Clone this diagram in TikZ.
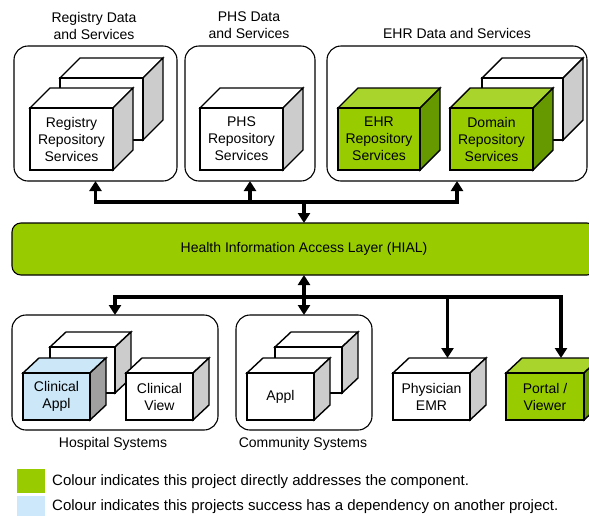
\documentclass[tikz,border=0pt]{standalone}
\usepackage{fontspec}
\setmainfont{Liberation Sans}
\usetikzlibrary{arrows.meta}

\definecolor{hialgreen}{HTML}{99CC00}
\definecolor{grnfront}{HTML}{99CC00}
\definecolor{grntop}{HTML}{A8D42C}
\definecolor{grnside}{HTML}{669900}
\definecolor{whtfront}{HTML}{FFFFFF}
\definecolor{whttop}{HTML}{FFFFFF}
\definecolor{whtside}{HTML}{CCCCCC}
\definecolor{blufront}{HTML}{CCE8F8}
\definecolor{blutop}{HTML}{CCE8F8}
\definecolor{bluside}{HTML}{A0A0A0}
\definecolor{legblue}{HTML}{CCE8FA}

\tikzset{
  txt/.style={font=\fontsize{14}{17}\selectfont, align=center},
  legtxt/.style={font=\fontsize{15}{17}\selectfont, anchor=west, inner sep=0pt},
  cubeedge/.style={draw=black, line width=1.4pt, line join=miter},
  cubefront/.style={cubeedge, txt, inner sep=0pt, outer sep=0pt},
  panel/.style={draw=black, line width=1.1pt, rounded corners=14pt, inner sep=0pt, outer sep=0pt},
  link/.style={draw=black, line width=3.3pt, line join=miter,
               -{Triangle[width=12pt,length=10pt]}},
  legsq/.style={draw=none, inner sep=0pt, outer sep=0pt},
}

% depth of the cube drawings (right and up)
\def\cdx{20}\def\cdy{20}

% #1 name, (#2,#3) front top-left, (#4,#5) front bottom-right, #6 colour set, #7 label
\newcommand\cubebox[7]{%
  \filldraw[cubeedge, fill=#6top] (#2,#3) -- (#2+\cdx,#3-\cdy) -- (#4+\cdx,#3-\cdy) -- (#4,#3) -- cycle;
  \filldraw[cubeedge, fill=#6side] (#4,#3) -- (#4+\cdx,#3-\cdy) -- (#4+\cdx,#5-\cdy) -- (#4,#5) -- cycle;
  \node[cubefront, fill=#6front, minimum width={(#4-#2)*1pt}, minimum height={(#5-#3)*1pt}]
       (#1) at ({(#2+#4)/2},{(#3+#5)/2}) {#7};
  \coordinate (#1-top) at ({(#2+#4)/2+\cdx},{#3-\cdy});
}

% #1 name, (#2,#3) top-left, (#4,#5) bottom-right
\newcommand\panelbox[5]{%
  \node[panel, minimum width={(#4-#2)*1pt}, minimum height={(#5-#3)*1pt}]
       (#1) at ({(#2+#4)/2},{(#3+#5)/2}) {};
}

\begin{document}
\begin{tikzpicture}[x=1pt, y=-1pt]
\useasboundingbox (0,0) rectangle (589,515);
\fill[white] (0,0) rectangle (589,515);

% ---------- data and services ----------
\node[txt] (regtitle) at (94,25.5) {Registry Data\\and Services};
\node[txt] (phstitle) at (249,25.5) {PHS Data\\and Services};
\node[txt] (ehrtitle) at (457,33) {EHR Data and Services};

\panelbox{regbox}{14}{46}{177}{181}
\panelbox{phsbox}{185}{46}{315}{181}
\panelbox{ehrbox}{327}{46}{587}{181}

\cubebox{regback}{60}{78}{143}{140}{wht}{}
\cubebox{regrep}{30}{108}{113}{170}{wht}{Registry\\Repository\\Services}
\cubebox{phsrep}{200}{108}{283}{170}{wht}{PHS\\Repository\\Services}
\cubebox{ehrback}{482}{78}{563}{140}{wht}{}
\cubebox{ehrrep}{338}{108}{420}{170}{grn}{EHR\\Repository\\Services}
\cubebox{domrep}{450}{108}{533}{170}{grn}{Domain\\Repository\\Services}

% ---------- access layer ----------
\node[panel, fill=hialgreen, rounded corners=9pt, minimum width=584pt, minimum height=52pt]
     (hial) at (304,249) {};
\node[txt] (hialtext) at (hial.center) {Health Information Access Layer (HIAL)};

% ---------- point of service ----------
\def\cdx{16}\def\cdy{15}
\panelbox{hospbox}{12}{315}{218}{430}
\panelbox{commbox}{236}{315}{372}{430}

\cubebox{hospback}{50}{347}{115}{393}{wht}{}
\cubebox{clinappl}{23}{373}{90}{420}{blu}{Clinical\\Appl}
\cubebox{clinview}{126}{373}{193}{420}{wht}{Clinical\\View}
\cubebox{commback}{275}{347}{342}{393}{wht}{}
\cubebox{appl}{247}{373}{314}{420}{wht}{Appl}
\cubebox{physemr}{393}{373}{470}{420}{wht}{Physician\\EMR}
\cubebox{portal}{506}{373}{584}{420}{grn}{Portal /\\Viewer}

\node[txt] (hosptitle) at (113,444) {Hospital Systems};
\node[txt] (commtitle) at (303,444) {Community Systems};

% ---------- connectors ----------
\coordinate (topbus) at (304,202);
\coordinate (botbus) at (304,297);
\draw[link] (topbus) -| (regbox.south);
\draw[link] (topbus) -| (phsbox.south);
\draw[link] (topbus) -| (ehrbox.south);
\draw[link] (topbus) -- (hial.north);

\draw[link] (botbus) -- (hial.south);
\draw[link] (botbus) -- (commbox.north);
\draw[link] (botbus) -| (hospbox.north);
\draw[link] (botbus) -| (physemr-top);
\draw[link] (botbus) -| (portal-top);

% ---------- legend ----------
\node[legsq, fill=hialgreen, minimum width=28pt, minimum height=24pt] (leggreen) at (31,481) {};
\node[legsq, fill=legblue, minimum width=28pt, minimum height=22pt] (legblue) at (31,507) {};
\node[legtxt] (legtext1) at (52,482) {Colour indicates this project directly addresses the component.};
\node[legtxt] (legtext2) at (52,507) {Colour indicates this projects success has a dependency on another project.};
\end{tikzpicture}
\end{document}
